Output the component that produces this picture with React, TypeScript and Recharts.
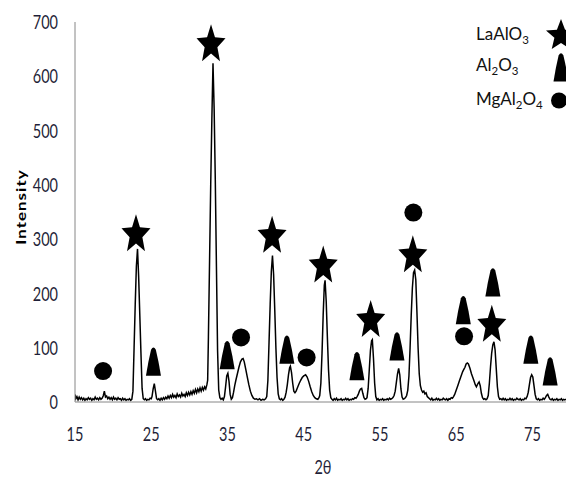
import React from 'react';
import { ComposedChart, Line, Scatter, XAxis, YAxis, Customized } from 'recharts';

// ---- data ----
const xTicks = [15, 25, 35, 45, 55, 65, 75];
const yTicks = [0, 100, 200, 300, 400, 500, 600, 700];

const scan15to30: [number, number][] = [
  [15.0, 14], [15.1, 6], [15.25, 10], [15.4, 4], [15.55, 9], [15.7, 5], [15.85, 8], [16.0, 4], [16.15, 7], [16.3, 3],
  [16.45, 6], [16.6, 4], [16.75, 8], [16.9, 5], [17.05, 7], [17.2, 3], [17.35, 6], [17.5, 4], [17.65, 9], [17.8, 5],
  [17.95, 7], [18.1, 4], [18.25, 8], [18.4, 5], [18.55, 7], [18.7, 11], [18.85, 20], [19.0, 9], [19.15, 11], [19.3, 6],
  [19.45, 9], [19.6, 5], [19.75, 8], [19.9, 4], [20.05, 9], [20.2, 5], [20.35, 7], [20.5, 4], [20.65, 8], [20.8, 5],
  [20.95, 6], [21.1, 3], [21.25, 7], [21.4, 4], [21.55, 6], [21.7, 3], [21.85, 5], [22.0, 4], [22.15, 6], [22.3, 3],
  [22.45, 5], [22.6, 20], [22.75, 100], [22.9, 180], [23.05, 250], [23.2, 282], [23.35, 230], [23.5, 160], [23.65, 90],
  [23.8, 25], [23.95, 6], [24.1, 4], [24.25, 6], [24.4, 3], [24.55, 5], [24.7, 4], [24.85, 7], [25.0, 6], [25.1, 10],
  [25.25, 24], [25.4, 34], [25.55, 20], [25.7, 6], [25.85, 4], [26.0, 6], [26.15, 3], [26.3, 7], [26.45, 4], [26.6, 8],
  [26.75, 5], [26.9, 9], [27.05, 6], [27.2, 11], [27.35, 7], [27.5, 12], [27.65, 8], [27.8, 14], [27.95, 9], [28.1, 12],
  [28.25, 8], [28.4, 15], [28.55, 10], [28.7, 13], [28.85, 9], [29.0, 16], [29.15, 11], [29.3, 14], [29.45, 10],
  [29.6, 17], [29.75, 12], [29.9, 18],
];

const scan30to45: [number, number][] = [
  [30.05, 13], [30.2, 19], [30.35, 14], [30.5, 21], [30.65, 16], [30.8, 23], [30.95, 17], [31.1, 24], [31.25, 19],
  [31.4, 26], [31.55, 20], [31.7, 27], [31.85, 22], [32.0, 28], [32.15, 24], [32.3, 32], [32.4, 40],
  [32.5, 120], [32.65, 260], [32.8, 400], [32.95, 520], [33.1, 624], [33.25, 540], [33.4, 410], [33.55, 250],
  [33.7, 95], [33.85, 22], [34.0, 8], [34.15, 5], [34.3, 7], [34.45, 4], [34.6, 10], [34.75, 28], [34.9, 48],
  [35.05, 53], [35.2, 38], [35.35, 14], [35.5, 5], [35.65, 8], [35.8, 18], [35.95, 30], [36.1, 40], [36.3, 52],
  [36.5, 64], [36.7, 74], [36.9, 79], [37.05, 80], [37.2, 74], [37.4, 60], [37.6, 46], [37.8, 32], [38.0, 20],
  [38.2, 12], [38.4, 7], [38.6, 5], [38.8, 6], [39.0, 4], [39.2, 6], [39.4, 3], [39.6, 5], [39.8, 4], [40.0, 6],
  [40.15, 10], [40.3, 40], [40.45, 110], [40.6, 180], [40.75, 240], [40.9, 270], [41.05, 235], [41.2, 170],
  [41.35, 100], [41.5, 45], [41.65, 15], [41.8, 6], [41.95, 4], [42.1, 6], [42.25, 3], [42.4, 5], [42.55, 9],
  [42.7, 18], [42.85, 32], [43.0, 50], [43.15, 63], [43.25, 66], [43.4, 54], [43.55, 35], [43.7, 20], [43.85, 17],
  [44.0, 20], [44.2, 27], [44.4, 34], [44.6, 40], [44.8, 45], [45.0, 48],
];

const scan45to61: [number, number][] = [
  [45.25, 50], [45.45, 46], [45.65, 38], [45.85, 28], [46.05, 19], [46.25, 12], [46.45, 8], [46.65, 6], [46.85, 5],
  [47.0, 8], [47.1, 12], [47.25, 35], [47.4, 90], [47.55, 160], [47.7, 215], [47.8, 224], [47.95, 185], [48.1, 120],
  [48.25, 60], [48.4, 22], [48.55, 8], [48.7, 5], [48.85, 3], [49.0, 6], [49.15, 4], [49.3, 7], [49.45, 3], [49.6, 5],
  [49.75, 4], [49.9, 6], [50.05, 3], [50.2, 5], [50.35, 4], [50.5, 7], [50.65, 4], [50.8, 6], [50.95, 3], [51.1, 5],
  [51.25, 4], [51.4, 6], [51.55, 5], [51.7, 8], [51.85, 7], [52.0, 10], [52.15, 14], [52.3, 20], [52.45, 24],
  [52.6, 25], [52.75, 16], [52.9, 8], [53.05, 5], [53.2, 6], [53.3, 8], [53.45, 25], [53.6, 60], [53.75, 95],
  [53.9, 113], [54.0, 115], [54.15, 80], [54.3, 35], [54.45, 10], [54.6, 4], [54.75, 6], [54.9, 3], [55.05, 5],
  [55.2, 4], [55.35, 6], [55.5, 3], [55.65, 5], [55.8, 4], [55.95, 6], [56.1, 4], [56.25, 7], [56.4, 5], [56.55, 6],
  [56.7, 8], [56.85, 12], [57.0, 20], [57.15, 36], [57.3, 52], [57.45, 62], [57.6, 50], [57.75, 24], [57.9, 9],
  [58.05, 5], [58.2, 6], [58.35, 8], [58.5, 12], [58.65, 22], [58.8, 48], [58.95, 100], [59.1, 160], [59.25, 210],
  [59.4, 238], [59.55, 243], [59.7, 225], [59.85, 165], [60.0, 100], [60.15, 52], [60.3, 30], [60.45, 22],
  [60.6, 18], [60.75, 20], [60.9, 15], [61.05, 17], [61.2, 10], [61.35, 8],
];

const scan61to80: [number, number][] = [
  [61.5, 6], [61.65, 4], [61.8, 7], [61.95, 3], [62.1, 5], [62.25, 4], [62.4, 7], [62.55, 4], [62.7, 6], [62.85, 3],
  [63.0, 5], [63.15, 4], [63.3, 7], [63.45, 5], [63.6, 4], [63.75, 6], [63.9, 3], [64.05, 6], [64.2, 5], [64.35, 8],
  [64.5, 7], [64.65, 10], [64.8, 14], [64.95, 20], [65.1, 26], [65.25, 32], [65.4, 38], [65.55, 44], [65.7, 50],
  [65.85, 56], [66.0, 60], [66.15, 64], [66.3, 70], [66.45, 72], [66.6, 70], [66.8, 62], [67.0, 52], [67.2, 44],
  [67.35, 38], [67.5, 32], [67.65, 28], [67.85, 34], [68.0, 37], [68.15, 30], [68.3, 16], [68.45, 8], [68.6, 5],
  [68.75, 6], [68.9, 4], [69.05, 6], [69.2, 12], [69.35, 35], [69.5, 65], [69.65, 90], [69.8, 105], [69.95, 111],
  [70.1, 96], [70.25, 62], [70.4, 28], [70.55, 10], [70.7, 5], [70.85, 6], [71.0, 4], [71.15, 7], [71.3, 4],
  [71.45, 6], [71.6, 3], [71.75, 5], [71.9, 4], [72.05, 7], [72.2, 4], [72.35, 6], [72.5, 3], [72.65, 5], [72.8, 4],
  [72.95, 7], [73.1, 5], [73.25, 4], [73.4, 6], [73.55, 3], [73.7, 5], [73.85, 4], [74.0, 7], [74.15, 6], [74.3, 10],
  [74.45, 18], [74.6, 32], [74.75, 45], [74.9, 50], [75.05, 46], [75.2, 30], [75.35, 14], [75.5, 6], [75.65, 4],
  [75.8, 6], [75.95, 3], [76.1, 5], [76.25, 4], [76.4, 7], [76.55, 5], [76.7, 8], [76.85, 12], [77.0, 14], [77.15, 9],
  [77.3, 5], [77.45, 4], [77.6, 6], [77.75, 3], [77.9, 5], [78.05, 4], [78.2, 6], [78.35, 3], [78.5, 5], [78.65, 4],
  [78.8, 6], [78.95, 3], [79.1, 5], [79.25, 4], [79.4, 5],
];

const laAlO3Marks = [
  { x: 23.0, y: 312 }, { x: 32.84, y: 662 }, { x: 40.85, y: 309 }, { x: 47.56, y: 254 },
  { x: 53.78, y: 154 }, { x: 59.31, y: 273 }, { x: 69.67, y: 145 },
];
const al2O3Marks = [
  { x: 25.29, y: 75 }, { x: 34.96, y: 87 }, { x: 42.79, y: 97 }, { x: 51.98, y: 67 }, { x: 57.23, y: 103 },
  { x: 65.93, y: 170 }, { x: 69.81, y: 221 }, { x: 74.79, y: 97 }, { x: 77.32, y: 57 },
];
const mgAl2O4Marks = [
  { x: 18.68, y: 57 }, { x: 36.78, y: 119 }, { x: 45.38, y: 82 }, { x: 59.38, y: 349 }, { x: 66.03, y: 121 },
];

const pattern = [...scan15to30, ...scan30to45, ...scan45to61, ...scan61to80].map(([x, y]) => ({ x, y }));

// ---- styling helpers ----
const TICK_FONT = 'Lato, "Open Sans", "DejaVu Sans", sans-serif';
const TICK_COLOR = '#1f1f38';
const AXIS_COLOR = '#868686';

function starPath(cx: number, cy: number, w: number, h: number) {
  const rx = w / 2 / 0.951;
  const ry = h / 1.809;
  const c = cy + 0.0955 * ry;
  const pts: string[] = [];
  for (let k = 0; k < 10; k++) {
    const a = ((-90 + 36 * k) * Math.PI) / 180;
    const r = k % 2 === 0 ? 1 : 0.44;
    pts.push(`${(cx + rx * r * Math.cos(a)).toFixed(2)},${(c + ry * r * Math.sin(a)).toFixed(2)}`);
  }
  return `M${pts.join('L')}Z`;
}

function trianglePath(cx: number, cy: number) {
  return `M${cx - 7.5},${cy + 14.5} Q${cx - 5.2},${cy} ${cx - 2.4},${cy - 11.5} Q${cx},${cy - 16} ${cx + 2.4},${cy - 11.5} Q${cx + 5.2},${cy} ${cx + 7.5},${cy + 14.5} Z`;
}

const StarShape = (p: any) => <path d={starPath(p.cx, p.cy, 29, 37)} fill="#000" />;
const TriangleShape = (p: any) => <path d={trianglePath(p.cx, p.cy)} fill="#000" />;
const CircleShape = (p: any) => <circle cx={p.cx} cy={p.cy} r={9} fill="#000" />;

const YTick = (p: any) => (
  <text
    transform={`translate(${p.x},${p.y}) scale(1,1.38)`}
    textAnchor="end"
    dy="0.36em"
    fontFamily={TICK_FONT}
    fontSize={14.5}
    fill={TICK_COLOR}
  >
    {p.payload.value}
  </text>
);

const XTick = (p: any) => (
  <text
    transform={`translate(${p.x},${p.y}) scale(1,1.38)`}
    textAnchor="middle"
    dy="0.36em"
    fontFamily={TICK_FONT}
    fontSize={14.5}
    fill={TICK_COLOR}
  >
    {p.payload.value}
  </text>
);

const Overlay = () => (
  <g>
    <text
      transform="translate(21,207) rotate(-90) scale(1.3,1)"
      textAnchor="middle"
      dy="0.36em"
      fontFamily={TICK_FONT}
      fontWeight={700}
      fontSize={13}
      letterSpacing={0.8}
      fill="#000"
    >
      Intensity
    </text>
    <text
      transform="translate(323,467) scale(1,1.3)"
      textAnchor="middle"
      dy="0.36em"
      fontFamily={TICK_FONT}
      fontSize={14.5}
      fill={TICK_COLOR}
    >
      2θ
    </text>
    <g fontFamily={TICK_FONT} fill="#111">
      <text x={476} y={40} fontSize={17}>
        LaAlO<tspan fontSize={11.5} dy={4}>3</tspan>
      </text>
      <text x={476} y={71} fontSize={17}>
        Al<tspan fontSize={11.5} dy={4}>2</tspan>
        <tspan dy={-4}>O</tspan>
        <tspan fontSize={11.5} dy={4}>3</tspan>
      </text>
      <text x={476} y={105} fontSize={17}>
        MgAl<tspan fontSize={11.5} dy={4}>2</tspan>
        <tspan dy={-4}>O</tspan>
        <tspan fontSize={11.5} dy={4}>4</tspan>
      </text>
    </g>
    <path d={starPath(561, 34, 30, 30)} fill="#000" />
    <path d={trianglePath(561, 67)} fill="#000" />
    <circle cx={559} cy={100.5} r={8} fill="#000" />
  </g>
);

export default function App() {
  return (
    <div style={{ position: 'absolute', left: 0, top: 0, width: 566, height: 479, background: '#fff' }}>
      <ComposedChart
        width={566}
        height={479}
        data={pattern}
        margin={{ top: 22, right: 0, bottom: 0, left: 0 }}
      >
        <XAxis
          type="number"
          dataKey="x"
          domain={[15, 79.4]}
          ticks={xTicks}
          allowDataOverflow
          height={77}
          tickLine={false}
          tickSize={0}
          tickMargin={32}
          axisLine={{ stroke: AXIS_COLOR, strokeWidth: 1 }}
          tick={<XTick />}
        />
        <YAxis
          type="number"
          domain={[0, 700]}
          ticks={yTicks}
          allowDataOverflow
          width={75}
          tickLine={false}
          tickSize={0}
          tickMargin={17}
          axisLine={{ stroke: AXIS_COLOR, strokeWidth: 1 }}
          tick={<YTick />}
        />
        <Line
          type="linear"
          dataKey="y"
          stroke="#000"
          strokeWidth={1.5}
          dot={false}
          activeDot={false}
          isAnimationActive={false}
        />
        <Scatter data={laAlO3Marks} dataKey="y" shape={StarShape} isAnimationActive={false} />
        <Scatter data={al2O3Marks} dataKey="y" shape={TriangleShape} isAnimationActive={false} />
        <Scatter data={mgAl2O4Marks} dataKey="y" shape={CircleShape} isAnimationActive={false} />
        <Customized component={<Overlay />} />
      </ComposedChart>
    </div>
  );
}
